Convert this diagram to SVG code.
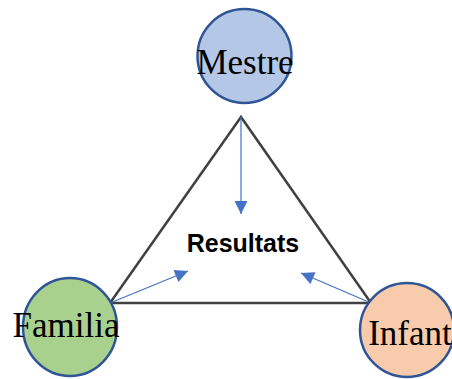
<svg xmlns="http://www.w3.org/2000/svg" width="452" height="379" viewBox="0 0 452 379">
<defs>
<style>
.node{stroke:#2F5597;stroke-width:2.5}
.lbl{font-family:"Liberation Serif",serif;font-size:35px;fill:#000;text-anchor:middle}
.arr{stroke:#4472C4;stroke-width:1.2;fill:none;marker-end:url(#ah)}
</style>
<marker id="ah" viewBox="0 0 10 10" refX="10" refY="5" markerWidth="15" markerHeight="13" markerUnits="userSpaceOnUse" orient="auto"><path d="M0,0 L10,5 L0,10 z" fill="#4472C4"/></marker>
</defs>
<rect width="452" height="379" fill="#fff"/>
<g id="triangle"><polygon points="241,117 110,303 371,303" fill="none" stroke="#404040" stroke-width="2.5" stroke-linejoin="miter"/></g>
<g id="resultats"><text x="243" y="252" font-family="Liberation Sans,Arial,sans-serif" font-weight="bold" font-size="25" text-anchor="middle">Resultats</text></g>
<g id="connectors">
<line class="arr" x1="241" y1="117" x2="241" y2="214"/>
<line class="arr" x1="110" y1="303" x2="188" y2="271"/>
<line class="arr" x1="371" y1="303" x2="301" y2="273"/>
</g>
<g id="mestre"><circle class="node" cx="244.5" cy="56" r="47" fill="#B4C7E7"/><text class="lbl" x="245" y="74">Mestre</text></g>
<g id="familia"><ellipse class="node" cx="70" cy="327" rx="47" ry="49" fill="#A9D18E"/><text class="lbl" x="66" y="337">Familia</text></g>
<g id="infant"><circle class="node" cx="407" cy="330" r="47" fill="#F8CBAD"/><text class="lbl" x="410" y="345">Infant</text></g>
</svg>
